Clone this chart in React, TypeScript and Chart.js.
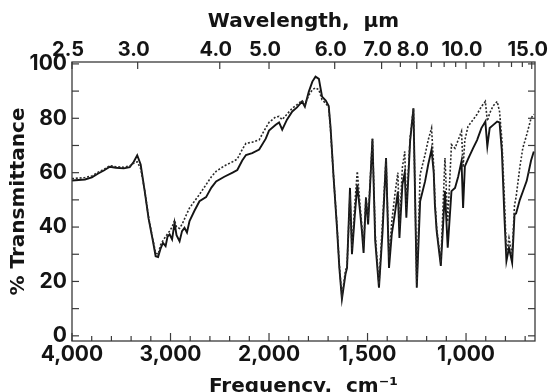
import React, { useEffect, useRef } from "react";
import { Chart, registerables } from "chart.js";

Chart.register(...registerables);

// Wavenumber (cm-1) sample points shared by both traces
const wavenumbers = [
  4000, 3869, 3798, 3734, 3677, 3616, 3555, 3474, 3414, 3373, 3338, 3303, 3262, 3222, 3178, 3151,
  3126, 3100, 3077, 3050, 3030, 3009, 2984, 2959, 2939, 2908, 2883, 2858, 2833, 2807, 2757, 2706,
  2639, 2585, 2537, 2454, 2370, 2322, 2272, 2234, 2171, 2100, 2033, 2000, 1966, 1949, 1933, 1909,
  1882, 1858, 1832, 1818, 1798, 1780, 1764, 1747, 1731, 1712, 1697, 1688, 1672, 1655, 1643, 1630,
  1612, 1604, 1589, 1579, 1565, 1552, 1537, 1528, 1520, 1508, 1497, 1475, 1461, 1442, 1424, 1406,
  1391, 1377, 1361, 1346, 1338, 1323, 1311, 1303, 1284, 1267, 1250, 1233, 1208, 1192, 1175, 1164,
  1158, 1149, 1128, 1107, 1093, 1074, 1056, 1040, 1023, 1015, 1006, 990, 964, 944, 922, 902,
  892, 880, 863, 842, 830, 818, 805, 795, 782, 766, 754, 746, 727, 712, 692, 670, 656,
];

// % Transmittance, solid trace
const solidT = [
  57.1, 57.5, 58.3, 59.7, 60.8, 62.2, 61.8, 61.6, 62.0, 64.0, 66.4, 63.0, 53.2, 43.0, 34.8, 29.3,
  29.0, 32.2, 34.2, 33.0, 36.5, 37.3, 35.5, 41.5, 37.0, 34.8, 38.5, 39.7, 38.0, 42.2, 46.0, 49.5,
  51.0, 54.5, 56.8, 58.5, 60.0, 61.0, 64.5, 66.5, 67.2, 68.5, 72.5, 75.5, 77.6, 78.5, 75.8, 79.5,
  82.5, 84.0, 86.2, 84.3, 89.8, 93.5, 95.3, 94.5, 88.0, 86.5, 84.5, 77.0, 58.0, 39.7, 25.0, 13.5,
  22.6, 25.0, 54.4, 30.0, 44.0, 55.5, 45.0, 38.0, 30.5, 50.7, 41.0, 72.5, 35.0, 17.7, 38.0, 65.4,
  25.0, 37.4, 45.0, 53.0, 36.0, 55.7, 60.0, 43.4, 71.5, 83.7, 17.7, 49.5, 56.8, 63.0, 68.5, 60.0,
  48.0, 38.5, 25.7, 53.2, 32.4, 53.2, 54.4, 58.5, 64.2, 47.0, 62.3, 65.0, 69.0, 72.0, 76.4, 78.8,
  69.7, 76.4, 77.5, 78.8, 78.5, 67.8, 43.4, 27.5, 32.4, 26.9, 44.6, 45.0, 50.0, 53.0, 57.0, 64.5, 67.8,
];

// % Transmittance, dotted trace
const dottedT = [
  57.8, 58.2, 58.8, 60.2, 61.2, 62.6, 62.2, 62.0, 62.5, 63.5, 64.0, 61.5, 53.5, 43.5, 35.2, 30.5,
  30.0, 33.5, 35.0, 36.5, 37.5, 38.5, 40.0, 42.5, 40.0, 39.5, 41.0, 43.0, 45.0, 47.0, 49.5, 52.0,
  55.6, 58.5, 60.5, 62.5, 64.0, 65.0, 68.5, 70.8, 71.2, 72.1, 76.5, 78.5, 80.5, 80.7, 79.5, 81.5,
  83.7, 85.0, 86.5, 85.0, 88.5, 90.5, 91.2, 90.5, 86.8, 85.5, 84.0, 76.0, 58.0, 40.5, 26.0, 14.5,
  24.0, 25.5, 52.0, 32.0, 48.0, 60.5, 47.0, 40.0, 33.0, 51.0, 43.0, 72.5, 37.4, 19.0, 42.0, 65.0,
  28.7, 42.0, 52.0, 60.0, 40.0, 62.0, 67.8, 47.0, 72.7, 83.7, 18.5, 59.4, 66.6, 72.0, 76.4, 62.0,
  50.0, 39.5, 27.0, 65.4, 42.0, 70.3, 69.0, 72.0, 75.2, 62.0, 72.0, 77.0, 79.5, 81.5, 84.3, 86.2,
  79.0, 81.9, 84.5, 86.2, 82.5, 72.0, 50.0, 30.0, 36.0, 30.0, 48.0, 51.0, 62.0, 69.0, 74.0, 80.0, 81.5,
];

// Tick values
const freqTicks = [4000, 3000, 2000, 1500, 1000];
const freqMinorTicks = [3800, 3600, 3400, 3200, 2800, 2600, 2400, 2200, 1900, 1800, 1700, 1600, 1400, 1300, 1200, 1100, 900, 800, 700];
const wavelengthTicks = [2.5, 3.0, 4.0, 5.0, 6.0, 7.0, 8.0, 10.0, 15.0];
const wavelengthMinorTicks = [7.5, 8.5, 9, 9.5, 11, 12, 13, 14];
const transTicks = [0, 20, 40, 60, 80, 100];
const transMinorTicks = [0, 10, 20, 30, 40, 50, 60, 70, 80, 90, 100];

const FREQ_MIN = 650;

// Grating spectrum axis: scale doubles below 2000 cm-1
const toPos = (nu: number) => (nu >= 2000 ? (4000 - nu) / 2 : 1000 + (2000 - nu));
const toNu = (u: number) => (u <= 1000 ? 4000 - 2 * u : 3000 - u);

const TITLE_FAMILY = "'DejaVu Sans', 'Liberation Sans', sans-serif";
const TICK_FAMILY = "Inter, 'DejaVu Sans', sans-serif";
const INK = "#141414";

const framePlugin = {
  id: "irFrame",
  afterDatasetsDraw(chart: any) {
    const { ctx, chartArea, scales } = chart;
    const { left, right, top, bottom } = chartArea;
    const line = (x1: number, y1: number, x2: number, y2: number) => {
      ctx.beginPath();
      ctx.moveTo(x1, y1);
      ctx.lineTo(x2, y2);
      ctx.stroke();
    };
    ctx.save();
    ctx.strokeStyle = "#3a3a3a";
    ctx.lineWidth = 1.3;
    ctx.strokeRect(left, top, right - left, bottom - top);
    ctx.lineWidth = 1.2;
    transMinorTicks.forEach((t) => {
      const y = scales.y.getPixelForValue(t);
      line(left, y, left + 7, y);
      line(right, y, right - 7, y);
    });
    freqTicks.forEach((f) => {
      const x = scales.x.getPixelForValue(toPos(f));
      line(x, bottom, x, bottom - 8);
    });
    freqMinorTicks.forEach((f) => {
      const x = scales.x.getPixelForValue(toPos(f));
      line(x, bottom, x, bottom - 5);
    });
    wavelengthTicks.forEach((w) => {
      const x = scales.x2.getPixelForValue(toPos(10000 / w));
      line(x, top, x, top + 7);
    });
    wavelengthMinorTicks.forEach((w) => {
      const x = scales.x2.getPixelForValue(toPos(10000 / w));
      line(x, top, x, top + 5);
    });
    ctx.restore();
  },
};

const tickFont = { family: TICK_FAMILY, size: 21, weight: "bold" as const, lineHeight: 1 };
const topTickFont = { family: TICK_FAMILY, size: 20, weight: "bold" as const, lineHeight: 1 };
const titleFont = { family: TITLE_FAMILY, size: 20, weight: "bold" as const, lineHeight: 1 };

export default function App() {
  const canvasRef = useRef<HTMLCanvasElement | null>(null);

  useEffect(() => {
    const canvas = canvasRef.current;
    if (!canvas) return;
    const solidData = wavenumbers.map((nu, i) => ({ x: toPos(nu), y: solidT[i] }));
    const dottedData = wavenumbers.map((nu, i) => ({ x: toPos(nu), y: dottedT[i] }));
    const maxPos = toPos(FREQ_MIN);

    const chart = new Chart(canvas, {
      type: "line",
      data: {
        datasets: [
          {
            label: "dotted",
            data: dottedData,
            borderColor: "#2a2a2a",
            borderWidth: 1.6,
            borderDash: [2, 1.8],
            pointRadius: 0,
            tension: 0,
            fill: false,
          },
          {
            label: "solid",
            data: solidData,
            borderColor: INK,
            borderWidth: 1.9,
            pointRadius: 0,
            tension: 0,
            fill: false,
          },
        ],
      },
      options: {
        responsive: false,
        animation: false,
        layout: { padding: { left: 0, right: 15, top: 0, bottom: 0 } },
        plugins: {
          legend: { display: false },
          tooltip: { enabled: false },
        },
        scales: {
          x: {
            type: "linear",
            position: "bottom",
            min: 0,
            max: maxPos,
            grid: { display: false, drawTicks: false },
            border: { display: false },
            afterBuildTicks: (s: any) => {
              s.ticks = freqTicks.map((f) => ({ value: toPos(f) }));
            },
            afterFit: (s: any) => {
              s.height = 51;
              s.paddingLeft = 0;
              s.paddingRight = 0;
            },
            ticks: {
              autoSkip: false,
              maxRotation: 0,
              padding: 3,
              color: INK,
              font: tickFont,
              callback: (v: any) => Math.round(toNu(Number(v))).toLocaleString("en-US"),
            },
            title: {
              display: true,
              text: "Frequency,  cm⁻¹",
              color: INK,
              font: titleFont,
              padding: { top: 0, bottom: -5 },
            },
          },
          x2: {
            type: "linear",
            position: "top",
            min: 0,
            max: maxPos,
            grid: { display: false, drawTicks: false },
            border: { display: false },
            afterBuildTicks: (s: any) => {
              s.ticks = wavelengthTicks.map((w) => ({ value: toPos(10000 / w) }));
            },
            afterFit: (s: any) => {
              s.height = 62;
              s.paddingLeft = 0;
              s.paddingRight = 0;
            },
            ticks: {
              autoSkip: false,
              maxRotation: 0,
              padding: 2.5,
              labelOffset: -4,
              color: INK,
              font: topTickFont,
              callback: (v: any) => (10000 / toNu(Number(v))).toFixed(1),
            },
            title: {
              display: true,
              text: "Wavelength,  µm",
              color: INK,
              font: titleFont,
              padding: { top: 12, bottom: 0 },
            },
          },
          y: {
            type: "linear",
            position: "left",
            min: -1.9,
            max: 100.7,
            grid: { display: false, drawTicks: false },
            border: { display: false },
            afterBuildTicks: (s: any) => {
              s.ticks = transTicks.map((t) => ({ value: t }));
            },
            afterFit: (s: any) => {
              s.width = 72;
              s.paddingTop = 0;
              s.paddingBottom = 0;
            },
            ticks: {
              padding: 5,
              color: INK,
              font: tickFont,
            },
            title: {
              display: true,
              text: "% Transmittance",
              color: INK,
              font: titleFont,
              padding: { top: 9, bottom: 0 },
            },
          },
        },
      },
      plugins: [framePlugin],
    } as any);

    return () => chart.destroy();
  }, []);

  return (
    <div style={{ position: "fixed", left: 0, top: 0, width: 550, height: 392, background: "#fff" }}>
      <canvas ref={canvasRef} width={550} height={392} style={{ display: "block" }} />
    </div>
  );
}
